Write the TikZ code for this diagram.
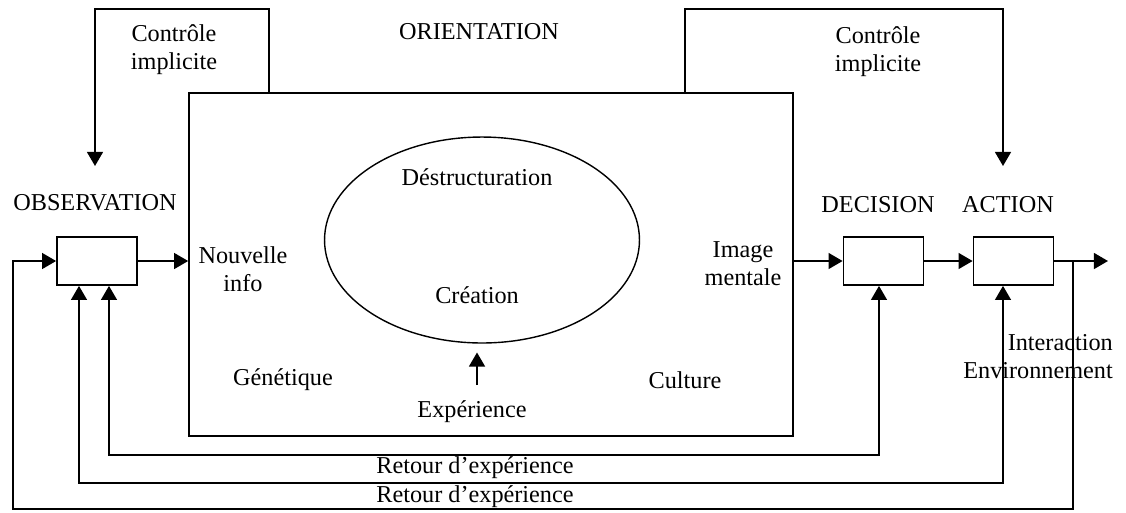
\documentclass[tikz,border=0pt]{standalone}
\usepackage{fontspec}
\setmainfont{Liberation Serif}
\usepackage{tikz}
\usetikzlibrary{shapes,arrows.meta}
\usetikzlibrary{positioning}

\begin{document}
\begin{tikzpicture}[x=0.02cm,y=-0.02cm,
    every node/.style={font=\fontsize{13.8}{16}\selectfont},
    bloc/.style={draw,line width=1pt,minimum width=1.6cm,minimum height=0.96cm,inner sep=0pt},
    fleche/.style={line width=1.1pt,-{Triangle[length=8pt,width=9pt]}},
    dfleche/.style={line width=1.1pt,{Triangle[length=8pt,width=9pt]}-{Triangle[length=8pt,width=9pt]}}]
    \useasboundingbox (0,0) rectangle (1126,512);
    % boites
    \node[draw,line width=1pt,minimum width=12.08cm,minimum height=6.86cm,inner sep=0pt] (orient) at (491,264.5) {};
    \node[draw,ellipse,line width=0.8pt,minimum width=6.3cm,minimum height=4.12cm,inner sep=0pt] (ell) at (482,240) {};
    \node[bloc] (obs) at (97,261) {};
    \node[bloc] (dec) at (883.5,261) {};
    \node[bloc] (act) at (1013.5,261) {};
    % textes
    \node (titre) at (479,32) {ORIENTATION};
    \node[align=center] (ctlg) at (174,50) {Contrôle\\implicite};
    \node[align=center] (ctld) at (878,52) {Contrôle\\implicite};
    \node (lobs) at (95,203) {OBSERVATION};
    \node (ldec) at (878,205) {DECISION};
    \node (lact) at (1008,205) {ACTION};
    \node[align=center] (info) at (243,269) {Nouvelle\\info};
    \node[align=center] (image) at (743,264) {Image\\mentale};
    \node (destr) at (477,177) {Déstructuration};
    \node (creat) at (477,295) {Création};
    \node (gen) at (283,380) {Génétique};
    \node (cult) at (685,380) {Culture};
    \node (exp) at (472,412) {Expérience};
    \node[align=right,anchor=east] (inter) at (1119,357) {Interaction\\Environnement};
    \node (ret1) at (475,468) {Retour d’expérience};
    \node (ret2) at (475,497) {Retour d’expérience};
    % controle implicite
    \coordinate (cg) at (269,93);
    \coordinate (cd) at (685,93);
    \coordinate (pobs) at (95,166);
    \coordinate (pact) at (1003,166);
    \draw[fleche] (cg) -- ++(0,-84) -| (pobs);
    \draw[fleche] (cd) -- ++(0,-84) -| (pact);
    % chaine
    \draw[fleche] (obs.east) -- (obs.east -| orient.west);
    \draw[fleche] (dec.west -| orient.east) -- (dec.west);
    \draw[fleche] (dec) -- (act);
    \coordinate (sortie) at (1108,261);
    \draw[fleche] (act) -- (sortie);
    \coordinate (expb) at (477,385);
    \draw[fleche,shorten >=5pt] (expb) -- (expb |- ell.south);
    % retours
    \coordinate (r1) at (109,455);
    \coordinate (r1d) at (879,455);
    \draw[dfleche] (r1 |- obs.south) -- (r1) -- (r1d) -- (r1d |- dec.south);
    \coordinate (r2) at (79,483);
    \coordinate (r2d) at (1003,483);
    \draw[dfleche] (r2 |- obs.south) -- (r2) -- (r2d) -- (r2d |- act.south);
    \coordinate (tap) at (1073,261);
    \coordinate (r3) at (13,509);
    \draw[fleche] (tap) |- (r3) |- (obs.west);
\end{tikzpicture}
\end{document}
